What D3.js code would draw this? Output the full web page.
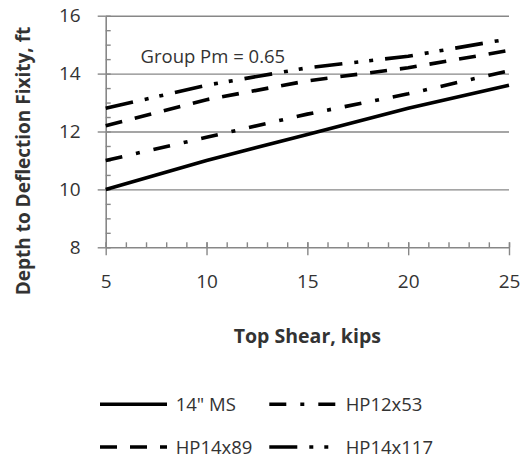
<!DOCTYPE html>
<html>
<head>
<meta charset="utf-8">
<script src="https://cdn.jsdelivr.net/npm/d3@7"></script>
<style>
  html, body { margin: 0; padding: 0; background: #fff; }
  svg { display: block; }
  text { font-family: "Open Sans", "DejaVu Sans", sans-serif; fill: #333; }
</style>
</head>
<body>
<svg id="chart" width="527" height="459"></svg>
<script>
// ---- data ----
const topShear = [5, 10, 15, 20, 25];
const seriesNames = ["14\" MS", "HP12x53", "HP14x89", "HP14x117"];
const ms14     = [10.0, 11.0, 11.9, 12.8, 13.6];
const hp12x53  = [11.0, 11.8, 12.6, 13.3, 14.1];
const hp14x89  = [12.2, 13.1, 13.75, 14.2, 14.8];
const hp14x117 = [12.8, 13.6, 14.2, 14.6, 15.2];
const xTicks = [5, 10, 15, 20, 25];
const yTicks = [8, 10, 12, 14, 16];
const annotation = "Group Pm = 0.65";
const xTitle = "Top Shear, kips";
const yTitle = "Depth to Deflection Fixity, ft";

const seriesValues = [ms14, hp12x53, hp14x89, hp14x117];
const dashes = [null, "17,14,4,14", "17,13", "28,12,4,11,4,12"];

const svg = d3.select("#chart");
const L = 105.7, R = 509, T = 15.7, B = 247.3;
const grey = "#878787";

const x = d3.scaleLinear().domain([5, 25]).range([L, R]);
const y = d3.scaleLinear().domain([8, 16]).range([B, T]);

// gridlines
svg.append("g").attr("transform", `translate(${L},0)`)
  .call(d3.axisLeft(y).tickValues(yTicks.filter(v => v > 8)).tickSize(-(R - L)).tickFormat(""))
  .call(g => g.select(".domain").remove())
  .call(g => g.selectAll("line").attr("stroke", grey).attr("stroke-width", 1.4));

// y minor ticks (inside)
svg.append("g").attr("transform", `translate(${L},0)`)
  .call(d3.axisRight(y).tickValues(d3.range(8, 16.01, 0.5)).tickSize(5).tickFormat(""))
  .call(g => g.select(".domain").remove())
  .call(g => g.selectAll("line").attr("stroke", grey).attr("stroke-width", 1.4));

// y major ticks + labels
svg.append("g").attr("transform", `translate(${L},0)`)
  .call(d3.axisLeft(y).tickValues(yTicks).tickSize(8).tickPadding(17).tickSizeOuter(0))
  .call(g => g.select(".domain").attr("stroke", grey).attr("stroke-width", 1.6))
  .call(g => g.selectAll("line").attr("stroke", grey).attr("stroke-width", 1.4))
  .call(g => g.selectAll("text").attr("font-size", 19).attr("fill", "#333")
    .attr("font-family", "Open Sans"));

// x minor ticks (inside)
svg.append("g").attr("transform", `translate(0,${B})`)
  .call(d3.axisTop(x).tickValues(d3.range(5, 25.01, 1)).tickSize(5).tickFormat(""))
  .call(g => g.select(".domain").remove())
  .call(g => g.selectAll("line").attr("stroke", grey).attr("stroke-width", 1.4));

// x major ticks + labels
svg.append("g").attr("transform", `translate(0,${B})`)
  .call(d3.axisBottom(x).tickValues(xTicks).tickSize(8).tickPadding(19).tickSizeOuter(0))
  .call(g => g.select(".domain").attr("stroke", grey).attr("stroke-width", 1.6))
  .call(g => g.selectAll("line").attr("y1", -5).attr("stroke", grey).attr("stroke-width", 1.4))
  .call(g => g.selectAll("text").attr("font-size", 19).attr("fill", "#333")
    .attr("font-family", "Open Sans"));

// series lines
const line = d3.line().x((d, i) => x(topShear[i])).y(d => y(d));
seriesValues.forEach((vals, i) => {
  svg.append("path").datum(vals)
    .attr("d", line)
    .attr("fill", "none")
    .attr("stroke", "#000")
    .attr("stroke-width", 3.6)
    .attr("stroke-dasharray", dashes[i]);
});

// annotation
svg.append("text").attr("x", 140.5).attr("y", 63.3)
  .attr("font-size", 18.5).text(annotation);

// axis titles
svg.append("text").attr("x", (L + R) / 2).attr("y", 343.3)
  .attr("text-anchor", "middle").attr("font-weight", "bold").attr("font-size", 19.5)
  .text(xTitle);
svg.append("text")
  .attr("transform", `translate(30,161) rotate(-90)`)
  .attr("text-anchor", "middle").attr("font-weight", "bold").attr("font-size", 19)
  .text(yTitle);

// legend
const legendPos = [
  {lx: 100, tx: 175.7, cy: 404.3},
  {lx: 269.3, tx: 345.7, cy: 404.3},
  {lx: 100, tx: 175.7, cy: 447},
  {lx: 269.3, tx: 345.7, cy: 447}
];
const lg = svg.append("g");
seriesNames.forEach((name, i) => {
  const p = legendPos[i];
  lg.append("line").attr("x1", p.lx).attr("x2", p.lx + 67)
    .attr("y1", p.cy).attr("y2", p.cy)
    .attr("stroke", "#000").attr("stroke-width", 3.4)
    .attr("stroke-dasharray", dashes[i]);
  lg.append("text").attr("x", p.tx).attr("y", p.cy + 7)
    .attr("font-size", 18.5).text(name);
});
</script>
</body>
</html>
